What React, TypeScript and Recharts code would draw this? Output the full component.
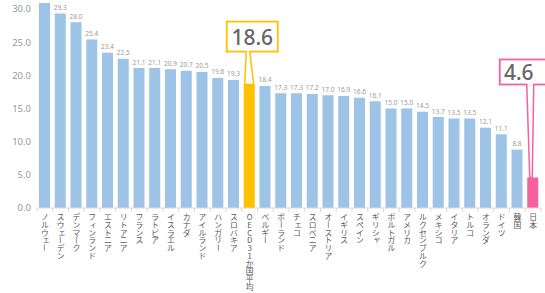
import React from 'react';
import { BarChart, Bar, XAxis, YAxis, Cell, LabelList } from 'recharts';

const countries = [
  'ノルウェー', 'スウェーデン', 'デンマーク', 'フィンランド', 'エストニア', 'リトアニア', 'フランス', 'ラトビア',
  'イスラエル', 'カナダ', 'アイルランド', 'ハンガリー', 'スロバキア', 'OECD31か国平均', 'ベルギー', 'ポーランド',
  'チェコ', 'スロベニア', 'オーストリア', 'イギリス', 'スペイン', 'ギリシャ', 'ポルトガル', 'アメリカ',
  'ルクセンブルク', 'メキシコ', 'イタリア', 'トルコ', 'オランダ', 'ドイツ', '韓国', '日本',
];
const values = [
  30.9, 29.3, 28.0, 25.4, 23.4, 22.5, 21.1, 21.1,
  20.9, 20.7, 20.5, 19.6, 19.3, 18.6, 18.4, 17.3,
  17.3, 17.2, 17.0, 16.9, 16.6, 16.1, 15.0, 15.0,
  14.5, 13.7, 13.5, 13.5, 12.1, 11.1, 8.8, 4.6,
];
const yTicks = [0, 5, 10, 15, 20, 25, 30];
const avgName = 'OECD31か国平均';
const japanName = '日本';

const data = countries.map((name, i) => ({ name, value: values[i] }));

const BLUE = '#9DC3E6';
const GOLD = '#FFC000';
const PINK = '#F5609E';
const JP_FONT = '"Noto Sans CJK JP", "Noto Sans", sans-serif';
const BAND = 504 / countries.length;
const SMALL = 'ァィゥェォッャュョヮ';
const PITCH = 7.7;

const CatTick = (props: any) => {
  const { x, y, payload, index } = props;
  const half = BAND / 2;
  const isLast = index === countries.length - 1;
  const chars = Array.from(String(payload.value));
  const top = y + 5;
  return (
    <g>
      <line x1={x - half} y1={y} x2={x - half} y2={y + 4} stroke="#d9d9d9" />
      {isLast && <line x1={x + half} y1={y} x2={x + half} y2={y + 4} stroke="#d9d9d9" />}
      {chars.map((ch, i) => {
        const cy = top + i * PITCH + PITCH / 2;
        const small = SMALL.includes(ch);
        const cx = x + (small ? 1.2 : 0);
        const yy = cy - (small ? 1.2 : 0);
        return (
          <text
            key={i}
            x={cx}
            y={yy}
            textAnchor="middle"
            dominantBaseline="central"
            fontSize={7.8}
            fill="#595959"
            fontFamily={JP_FONT}
            transform={ch === 'ー' ? `rotate(90 ${cx} ${yy})` : undefined}
          >
            {ch}
          </text>
        );
      })}
    </g>
  );
};

const ValueLabel = (props: any) => {
  const { x, y, width, value, index } = props;
  const name = countries[index];
  const cx = x + width / 2;
  if (name === avgName) {
    const bx = cx - 22.5;
    const by = y - 63;
    const bw = 51;
    const bh = 30;
    return (
      <g>
        <polygon
          points={`${cx - 3},${by + bh} ${cx + 0.5},${by + bh} ${cx + width / 2 - 1},${y} ${cx - width / 2 + 1},${y}`}
          fill="#fff"
          stroke={GOLD}
          strokeWidth={1.5}
        />
        <rect x={bx} y={by} width={bw} height={bh} fill="#fff" stroke={GOLD} strokeWidth={1.8} />
        <line x1={cx - 2.2} y1={by + bh} x2={cx - 0.3} y2={by + bh} stroke="#fff" strokeWidth={2.5} />
        <text x={bx + bw / 2} y={by + 23} textAnchor="middle" fontSize={21} fill="#666" fontFamily="'Noto Sans', sans-serif" fontWeight={500}>
          {value.toFixed(1)}
        </text>
      </g>
    );
  }
  if (name === japanName) {
    const bx = cx - 33;
    const by = y - 118;
    const bw = 60;
    const bh = 25;
    return (
      <g>
        <polygon
          points={`${cx - 6},${by + bh} ${cx + 1},${by + bh} ${cx - 0.5},${y} ${cx - 3},${y}`}
          fill="#fff"
          stroke={PINK}
          strokeWidth={1.5}
        />
        <rect x={bx} y={by} width={bw} height={bh} fill="#fff" stroke={PINK} strokeWidth={1.8} />
        <line x1={cx - 5.2} y1={by + bh} x2={cx + 0.2} y2={by + bh} stroke="#fff" strokeWidth={2.5} />
        <text x={bx + 19} y={by + 21} textAnchor="middle" fontSize={21} fill="#666" fontFamily="'Noto Sans', sans-serif" fontWeight={500}>
          {value.toFixed(1)}
        </text>
      </g>
    );
  }
  if (y < 9) return null;
  return (
    <text x={cx} y={y - 3.5} textAnchor="middle" fontSize={6.5} fill="#999" fontFamily="'Noto Sans', sans-serif">
      {value.toFixed(1)}
    </text>
  );
};

export default function App() {
  return (
    <div style={{ position: 'absolute', left: 0, top: 0, width: 545, height: 293, background: '#fff' }}>
      <BarChart width={545} height={293} data={data} margin={{ top: 3, right: 4, bottom: 0, left: 0 }}>
        <XAxis
          dataKey="name"
          interval={0}
          height={85}
          tickSize={0}
          tickMargin={0}
          tickLine={false}
          axisLine={{ stroke: '#d9d9d9' }}
          tick={<CatTick />}
        />
        <YAxis
          width={37}
          domain={[0, 30.9]}
          ticks={yTicks}
          tickFormatter={(v: number) => v.toFixed(1)}
          axisLine={false}
          tickLine={false}
          tickSize={0}
          tickMargin={6}
          tick={{ fontSize: 9.5, fill: '#999', fontFamily: "'Noto Sans', sans-serif" }}
        />
        <Bar dataKey="value" barSize={11} isAnimationActive={false}>
          {data.map((d, i) => (
            <Cell key={i} fill={d.name === avgName ? GOLD : d.name === japanName ? PINK : BLUE} />
          ))}
          <LabelList dataKey="value" content={<ValueLabel />} />
        </Bar>
      </BarChart>
    </div>
  );
}
